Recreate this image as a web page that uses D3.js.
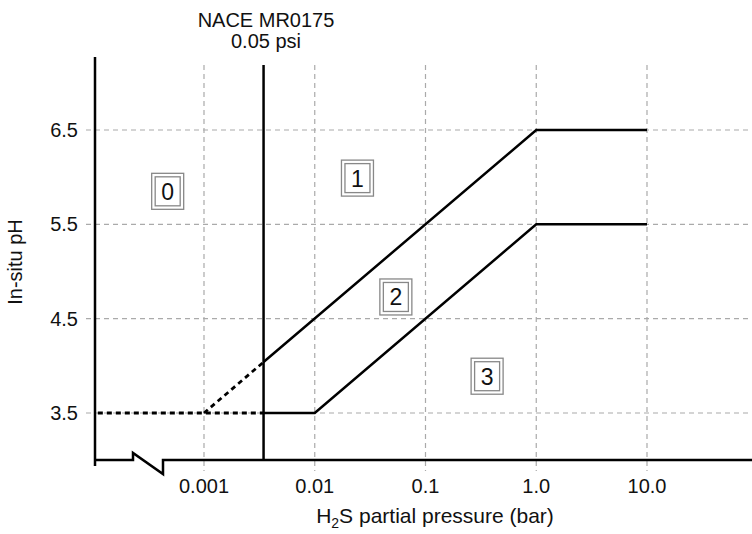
<!DOCTYPE html>
<html>
<head>
<meta charset="utf-8">
<title>H2S partial pressure vs in-situ pH</title>
<script src="https://d3js.org/d3.v7.min.js"></script>
<style>
    body { margin: 0; background: #fff; }
    text { font-family: "Liberation Sans", Arial, Helvetica, sans-serif; fill: #111; }
</style>
</head>
<body>
<svg id="chart" width="752" height="534"></svg>
<script>
// ---- data ----
var xTicks = [0.001, 0.01, 0.1, 1, 10];
var xTickLabels = ["0.001", "0.01", "0.1", "1.0", "10.0"];
var yTicks = [3.5, 4.5, 5.5, 6.5];
var yTickLabels = ["3.5", "4.5", "5.5", "6.5"];

var naceP = 0.00345;          // 0.05 psi in bar
var leftP = 0.00011;          // where the dashed line starts (left axis)

// boundary between region 1 and 2
var upperDashed = [[0.001, 3.5], [0.00345, 4.04]];
var upperSolid = [[0.00345, 4.04], [1, 6.5], [10, 6.5]];
// boundary between region 2 and 3
var lowerDashed = [[leftP, 3.5], [0.00345, 3.5]];
var lowerSolid = [[0.00345, 3.5], [0.01, 3.5], [1, 5.5], [10, 5.5]];

var regionNames = ["0", "1", "2", "3"];
var regionP = [0.00047, 0.0243, 0.054, 0.36];
var regionPH = [5.85, 5.99, 4.73, 3.89];

// ---- scales ----
var svg = d3.select("#chart");
var x = d3.scaleLog().domain([0.001, 10]).range([204, 647]);
var y = d3.scaleLinear().domain([3.5, 6.5]).range([413, 130]);

var axisX = 95, axisY = 460, gridTop = 65, gridBottom = 471;

// grid
svg.append("g").selectAll("line").data(yTicks).enter().append("line")
    .attr("x1", 86).attr("x2", 752)
    .attr("y1", function(d) { return y(d); }).attr("y2", function(d) { return y(d); })
    .attr("stroke", "#aaa").attr("stroke-width", 1.2).attr("stroke-dasharray", "5,4");

svg.append("g").selectAll("line").data(xTicks).enter().append("line")
    .attr("x1", function(d) { return x(d); }).attr("x2", function(d) { return x(d); })
    .attr("y1", gridTop).attr("y2", gridBottom)
    .attr("stroke", "#aaa").attr("stroke-width", 1.2).attr("stroke-dasharray", "5,4");

// axes (left axis + broken bottom axis)
svg.append("line")
    .attr("x1", axisX).attr("x2", axisX).attr("y1", 57).attr("y2", 466)
    .attr("stroke", "#000").attr("stroke-width", 2.5);

svg.append("path")
    .attr("d", "M" + axisX + "," + axisY + " H133 V453 L163,474 V" + axisY + " H752")
    .attr("fill", "none").attr("stroke", "#000").attr("stroke-width", 2.5)
    .attr("stroke-linejoin", "miter");

// NACE vertical line
svg.append("line")
    .attr("x1", x(naceP)).attr("x2", x(naceP)).attr("y1", 65).attr("y2", axisY)
    .attr("stroke", "#000").attr("stroke-width", 2.5);

svg.append("text").attr("x", 266).attr("y", 27).attr("text-anchor", "middle")
    .attr("font-size", "20px").text("NACE MR0175");
svg.append("text").attr("x", 266).attr("y", 48).attr("text-anchor", "middle")
    .attr("font-size", "20px").text("0.05 psi");

// boundary lines
var line = d3.line().x(function(d) { return x(d[0]); }).y(function(d) { return y(d[1]); });

[upperDashed, lowerDashed].forEach(function(pts) {
    svg.append("path").attr("d", line(pts))
        .attr("fill", "none").attr("stroke", "#000").attr("stroke-width", 2.8)
        .attr("stroke-dasharray", "5,4");
});
[upperSolid, lowerSolid].forEach(function(pts) {
    svg.append("path").attr("d", line(pts))
        .attr("fill", "none").attr("stroke", "#000").attr("stroke-width", 2.5);
});

// tick labels
svg.append("g").selectAll("text").data(yTicks).enter().append("text")
    .attr("x", 78).attr("y", function(d) { return y(d) + 7; })
    .attr("text-anchor", "end").attr("font-size", "20px")
    .text(function(d, i) { return yTickLabels[i]; });

svg.append("g").selectAll("text").data(xTicks).enter().append("text")
    .attr("x", function(d) { return x(d); }).attr("y", 493)
    .attr("text-anchor", "middle").attr("font-size", "20px")
    .text(function(d, i) { return xTickLabels[i]; });

// axis titles
var xt = svg.append("text").attr("x", 435).attr("y", 523)
    .attr("text-anchor", "middle").attr("font-size", "21px");
xt.append("tspan").text("H");
xt.append("tspan").attr("font-size", "14px").attr("dy", 5).text("2");
xt.append("tspan").attr("dy", -5).text("S partial pressure (bar)");

svg.append("text")
    .attr("transform", "translate(22,262) rotate(-90)")
    .attr("text-anchor", "middle").attr("font-size", "20px")
    .text("In-situ pH");

// region labels with double boxes
var boxW = 32, boxH = 36, inset = 3.5;
var reg = svg.append("g").selectAll("g").data(regionNames).enter().append("g")
    .attr("transform", function(d, i) {
        return "translate(" + x(regionP[i]) + "," + y(regionPH[i]) + ")";
    });
reg.append("rect")
    .attr("x", -boxW / 2).attr("y", -boxH / 2).attr("width", boxW).attr("height", boxH)
    .attr("fill", "#fff").attr("stroke", "#888").attr("stroke-width", 1.3);
reg.append("rect")
    .attr("x", -boxW / 2 + inset).attr("y", -boxH / 2 + inset)
    .attr("width", boxW - 2 * inset).attr("height", boxH - 2 * inset)
    .attr("fill", "none").attr("stroke", "#888").attr("stroke-width", 1.3);
reg.append("text")
    .attr("x", 0).attr("y", 8.5).attr("text-anchor", "middle").attr("font-size", "23px")
    .text(function(d) { return d; });
</script>
</body>
</html>
